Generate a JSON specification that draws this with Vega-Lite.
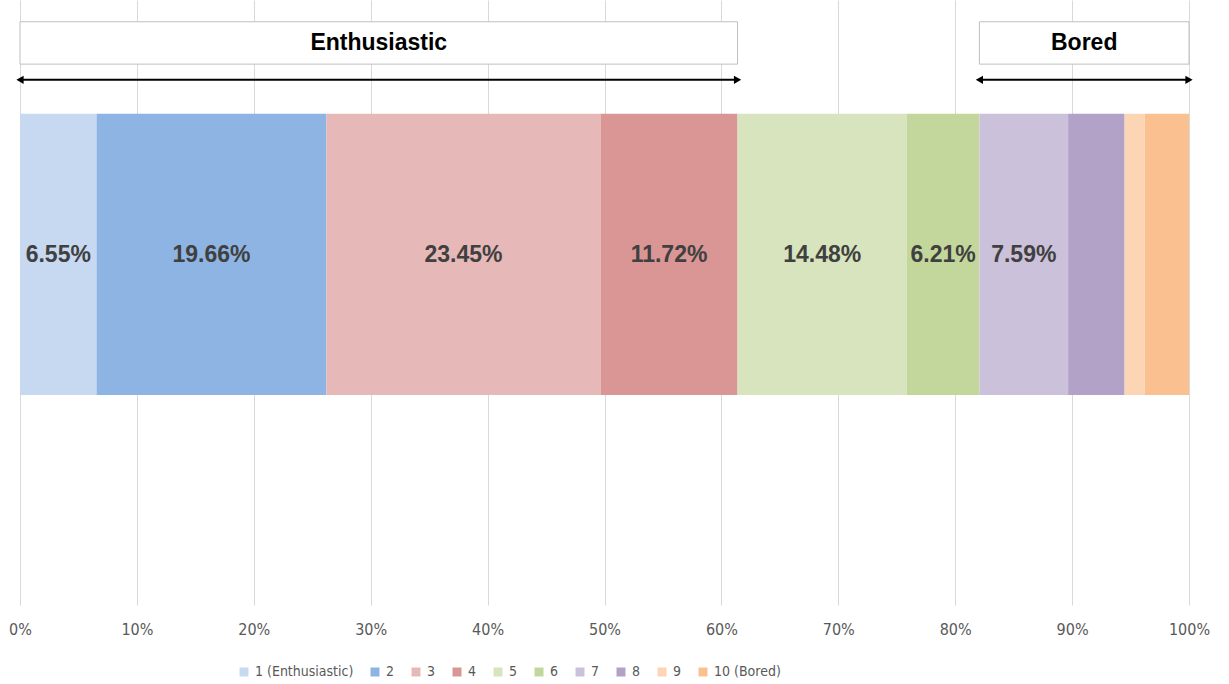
{
  "$schema": "https://vega.github.io/schema/vega-lite/v6.json",
  "autosize": "none",
  "width": 1169,
  "height": 605,
  "padding": {"left": 20, "top": 0, "right": 40, "bottom": 79},
  "background": "white",
  "config": {
    "view": {"stroke": null},
    "font": "Liberation Sans"
  },
  "datasets": {
    "ratings": [
      {"rating": "1 (Enthusiastic)", "rank": 1, "pct": 6.55},
      {"rating": "2", "rank": 2, "pct": 19.66},
      {"rating": "3", "rank": 3, "pct": 23.45},
      {"rating": "4", "rank": 4, "pct": 11.72},
      {"rating": "5", "rank": 5, "pct": 14.48},
      {"rating": "6", "rank": 6, "pct": 6.21},
      {"rating": "7", "rank": 7, "pct": 7.59},
      {"rating": "8", "rank": 8, "pct": 4.83},
      {"rating": "9", "rank": 9, "pct": 1.72},
      {"rating": "10 (Bored)", "rank": 10, "pct": 3.79}
    ],
    "groups": [
      {"group": "Enthusiastic", "from": 0, "to": 61.38},
      {"group": "Bored", "from": 82.07, "to": 100}
    ]
  },
  "layer": [
    {
      "data": {"name": "ratings"},
      "transform": [
        {"stack": "pct", "groupby": [], "sort": [{"field": "rank", "order": "ascending"}], "as": ["x0", "x1"]}
      ],
      "mark": {"type": "bar"},
      "encoding": {
        "x": {
          "field": "x0", "type": "quantitative",
          "scale": {"domain": [0, 100], "nice": false},
          "axis": {
            "title": null,
            "values": [0, 10, 20, 30, 40, 50, 60, 70, 80, 90, 100],
            "labelExpr": "datum.value + '%'",
            "labelFlush": false,
            "domain": false, "ticks": false,
            "grid": true, "gridColor": "#D9D9D9", "gridWidth": 1,
            "labelPadding": 16, "labelFontSize": 16, "labelColor": "#595959",
            "labelFont": "DejaVu Sans Condensed, Roboto Condensed, Liberation Sans Narrow, Roboto, sans-serif"
          }
        },
        "x2": {"field": "x1"},
        "y": {"datum": 81.2, "type": "quantitative", "scale": {"domain": [0, 100], "nice": false, "zero": false}, "axis": null},
        "y2": {"datum": 34.7},
        "color": {
          "field": "rating", "type": "nominal",
          "scale": {
            "domain": ["1 (Enthusiastic)", "2", "3", "4", "5", "6", "7", "8", "9", "10 (Bored)"],
            "range": ["#C6D9F1", "#8DB4E2", "#E6B9B8", "#DA9694", "#D7E4BD", "#C3D69B", "#CCC1DA", "#B3A2C7", "#FCD5B5", "#FAC090"]
          },
          "legend": {
            "title": null, "orient": "none", "direction": "horizontal",
            "legendX": 217, "legendY": 665,
            "symbolType": "square", "symbolSize": 81, "symbolStrokeWidth": 0,
            "labelFontSize": 14, "labelColor": "#595959",
            "labelFont": "DejaVu Sans Condensed, Roboto Condensed, Liberation Sans Narrow, Roboto, sans-serif",
            "columnPadding": 14, "labelOffset": 4
          }
        }
      }
    },
    {
      "data": {"name": "ratings"},
      "transform": [
        {"stack": "pct", "groupby": [], "sort": [{"field": "rank", "order": "ascending"}], "as": ["x0", "x1"]},
        {"filter": "datum.rank <= 7"},
        {"calculate": "(datum.x0 + datum.x1) / 2", "as": "mid"},
        {"calculate": "format(datum.pct, '.2f') + '%'", "as": "label"}
      ],
      "mark": {"type": "text", "fontSize": 23, "fontWeight": "bold", "color": "#404040", "align": "center", "baseline": "middle"},
      "encoding": {
        "x": {"field": "mid", "type": "quantitative"},
        "y": {"datum": 57.9, "type": "quantitative"},
        "text": {"field": "label"}
      }
    },
    {
      "data": {"name": "groups"},
      "mark": {"type": "rect", "fill": "white", "stroke": "#BFBFBF", "strokeWidth": 1},
      "encoding": {
        "x": {"field": "from", "type": "quantitative"},
        "x2": {"field": "to"},
        "y": {"datum": 96.4, "type": "quantitative"},
        "y2": {"datum": 89.4}
      }
    },
    {
      "data": {"name": "groups"},
      "transform": [{"calculate": "(datum.from + datum.to) / 2", "as": "mid"}],
      "mark": {"type": "text", "fontSize": 23, "fontWeight": "bold", "color": "#000000", "align": "center", "baseline": "middle"},
      "encoding": {
        "x": {"field": "mid", "type": "quantitative"},
        "y": {"datum": 92.9, "type": "quantitative"},
        "text": {"field": "group"}
      }
    },
    {
      "data": {"name": "groups"},
      "mark": {"type": "rule", "color": "#000000", "strokeWidth": 2},
      "encoding": {
        "x": {"field": "from", "type": "quantitative"},
        "x2": {"field": "to"},
        "y": {"datum": 86.8, "type": "quantitative"}
      }
    },
    {
      "data": {"name": "groups"},
      "mark": {"type": "point", "shape": "triangle-left", "filled": true, "color": "#000000", "size": 70, "opacity": 1},
      "encoding": {
        "x": {"field": "from", "type": "quantitative"},
        "y": {"datum": 86.8, "type": "quantitative"}
      }
    },
    {
      "data": {"name": "groups"},
      "mark": {"type": "point", "shape": "triangle-right", "filled": true, "color": "#000000", "size": 70, "opacity": 1},
      "encoding": {
        "x": {"field": "to", "type": "quantitative"},
        "y": {"datum": 86.8, "type": "quantitative"}
      }
    }
  ]
}
